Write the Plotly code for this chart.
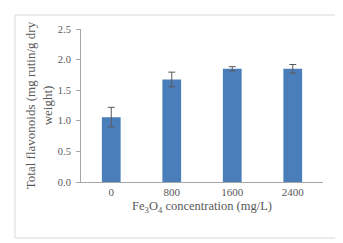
import plotly.graph_objects as go

categories = ["0", "800", "1600", "2400"]
values = [1.06, 1.675, 1.85, 1.85]
errors = [0.16, 0.12, 0.035, 0.07]
y_ticks = [0.0, 0.5, 1.0, 1.5, 2.0, 2.5]

W, H = 343, 243
L, R, T, B = 73, 28, 21, 69
pw, ph = W - L - R, H - T - B

def px_to_paper_x(px):
    return (px - L) / pw

def px_to_paper_y(py):
    return (H - B - py) / ph

fig = go.Figure(go.Bar(
    x=categories, y=values,
    marker=dict(color="#4a7ebb", line=dict(width=0)),
    error_y=dict(type="data", array=errors, visible=True,
                 color="#595959", thickness=1, width=3.5),
))

font_family = "Liberation Serif, Times New Roman, serif"

fig.update_layout(
    width=W, height=H,
    margin=dict(l=L, r=R, t=T, b=B),
    paper_bgcolor="white", plot_bgcolor="white",
    bargap=0.69,
    showlegend=False,
    font=dict(family=font_family, color="#595959", size=11),
    xaxis=dict(
        showline=True, linecolor="#a6a6a6", linewidth=1,
        ticks="", showgrid=False, tickfont=dict(size=11, color="#595959"),
        title=dict(text="Fe<sub>3</sub>O<sub>4</sub> concentration (mg/L)",
                   font=dict(size=12.5, color="#595959"), standoff=4),
    ),
    yaxis=dict(
        range=[0, 2.5], tickvals=y_ticks, tickformat=".1f",
        showline=True, linecolor="#a6a6a6", linewidth=1,
        ticks="outside", ticklen=4, tickcolor="#a6a6a6",
        ticklabelstandoff=3,
        showgrid=False, zeroline=False, tickfont=dict(size=10.5, color="#595959"),
        title=dict(text="Total flavonoids (mg rutin/g dry<br>weight)",
                   font=dict(size=13, color="#595959"), standoff=2),
    ),
    shapes=[dict(
        type="rect", xref="paper", yref="paper",
        x0=px_to_paper_x(7), x1=px_to_paper_x(328),
        y0=px_to_paper_y(230), y1=px_to_paper_y(7),
        line=dict(color="#d9d9d9", width=1), fillcolor="rgba(0,0,0,0)",
        layer="below",
    )],
)

fig.write_html("out.html")
